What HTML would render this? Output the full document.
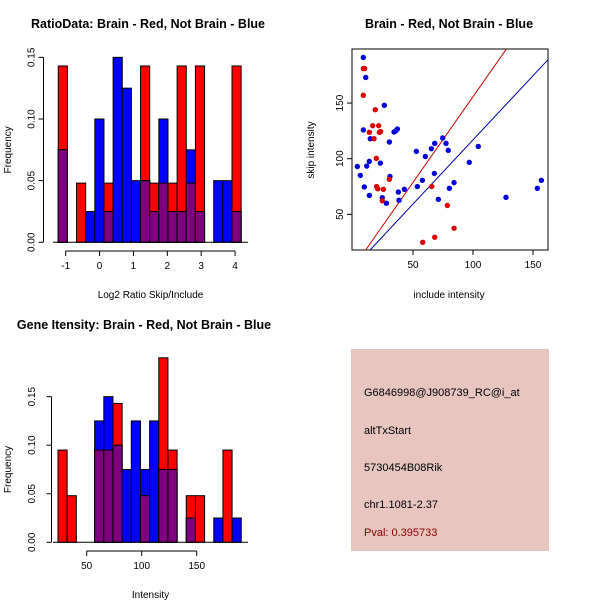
<!DOCTYPE html>
<html><head><meta charset="utf-8"><style>
body{margin:0;background:#fff;}
svg{display:block;font-family:"Liberation Sans",sans-serif;}
</style></head><body>
<svg id="c" width="600" height="600" xmlns="http://www.w3.org/2000/svg">
<rect width="600" height="600" fill="#fff"/>
<text x="148" y="28" font-size="12.5" font-weight="bold" text-anchor="middle">RatioData: Brain - Red, Not Brain - Blue</text>
<text x="449" y="28" font-size="12.5" font-weight="bold" text-anchor="middle">Brain - Red, Not Brain - Blue</text>
<text x="144" y="329" font-size="12.5" font-weight="bold" text-anchor="middle">Gene Itensity: Brain - Red, Not Brain - Blue</text>
<g>
<rect x="351" y="349" width="198" height="202" fill="#E6C6BF"/>
<text x="364" y="396" font-size="11">G6846998@J908739_RC@i_at</text>
<text x="364" y="434" font-size="11">altTxStart</text>
<text x="364" y="471" font-size="11">5730454B08Rik</text>
<text x="364" y="508" font-size="11">chr1.1081-2.37</text>
<text x="364" y="536" font-size="11" fill="#8B0000">Pval: 0.395733</text>
</g>
</svg>
<script>
// Top histogram (log2 ratio)
const ratioBinStart = -1.22;
const ratioBinWidth = 0.27;
const ratioRed  = [0.143,0,0.048,0,0,0.048,0,0,0,0.143,0.048,0.048,0.048,0.143,0.048,0.143,0,0,0,0.143];
const ratioBlue = [0.075,0,0,0.025,0.1,0.025,0.15,0.125,0.05,0.05,0.025,0.1,0.025,0.025,0.075,0.025,0,0.05,0.05,0.025];
const ratioXTicks = [-1,0,1,2,3,4];
const freqTicksTop = [0,0.05,0.10,0.15];
const freqTickLabels = ["0.00","0.05","0.10","0.15"];
// Bottom histogram (intensity)
const intBinStart = 23.9;
const intBinWidth = 8.33;
const intRed  = [0.095,0.048,0,0,0.095,0.095,0.143,0,0,0.048,0,0.19,0.095,0,0.048,0.048,0,0,0.095,0];
const intBlue = [0,0,0,0,0.125,0.15,0.1,0.075,0.125,0.075,0.125,0.075,0.075,0,0.025,0,0,0.025,0,0.025];
const intXTicks = [50,100,150];
// Scatter
const blueX = [8.6,10.6,8.6,14.4,26.1,30.3,30.8,22.8,13.6,11.4,3.6,6.1,9.4,13.6,24.4,27.8,34.2,35.6,37,37.8,38.3,42.8,52.8,53.6,57.8,60.3,65.3,67.8,68.1,71.1,74.7,77.5,79.4,80.3,84.2,96.9,104.4,127.5,153.6,157];
const blueY = [191,173,125.8,118,148,115,84,96,97.6,93.4,93,85,74.6,67,65,60,124,125,126.7,70,62.6,72.5,106.6,75,80.6,102,109,86.8,113.8,63.5,118.6,113.8,107.5,73.4,78.5,96.7,111,65.3,73.4,80.6];
const redX = [8.6,9.7,8.6,18.6,13.6,16.4,17.5,21.4,22,23,19.4,19.7,20.6,25.3,24.4,30.3,65.6,78.6,84.2,68.1,58.1];
const redY = [181,181,157,144,123.7,129.7,118,129.7,123.7,124.4,100.3,75,73,72.5,62.3,81.5,75,58,37.5,29.4,24.9];
const redLine = [1.7,1.54];   // intercept, slope
const blueLine = [1.6,1.153];
const scatterXTicks = [50,100,150];
const scatterYTicks = [50,100,150];

const NS="http://www.w3.org/2000/svg";
const svg=document.getElementById('c');
function mk(tag,attrs,parent){const e=document.createElementNS(NS,tag);for(const k in attrs)e.setAttribute(k,attrs[k]);(parent||svg).appendChild(e);return e;}

function histogram(cfg){
  const g=mk('g',{});
  
  
  const sx=v=>cfg.px0+(v-cfg.x0)*cfg.kx;
  const sy=v=>cfg.py0-v*cfg.ky;
  for(let i=0;i<cfg.red.length;i++){
    const l=sx(cfg.bs+i*cfg.bw), r=sx(cfg.bs+(i+1)*cfg.bw);
    const rv=cfg.red[i], bv=cfg.blue[i];
    if(rv>0){const e=mk('rect',{x:l,y:sy(rv),width:r-l,height:sy(0)-sy(rv),fill:'#FF0000',stroke:'#000','stroke-width':1},g);
      
      }
    if(bv>0){const e=mk('rect',{x:l,y:sy(bv),width:r-l,height:sy(0)-sy(bv),fill:'#0000FF',stroke:'#000','stroke-width':1},g);
      
      }
    const m=Math.min(rv,bv);
    if(m>0){const e=mk('rect',{x:l,y:sy(m),width:r-l,height:sy(0)-sy(m),fill:'#7F007F',stroke:'#000','stroke-width':1},g);
      
      }
  }
  mk('line',{x1:cfg.baseL,x2:cfg.baseR,y1:sy(0),y2:sy(0),stroke:'#000','stroke-width':1},g);
  const ya=mk('g',{},g);
  
  
  mk('line',{x1:cfg.yax,x2:cfg.yax,y1:sy(0),y2:sy(cfg.yt[cfg.yt.length-1]),stroke:'#000'},ya);
  cfg.yt.forEach((v,i)=>{
    mk('line',{x1:cfg.yax-5,x2:cfg.yax,y1:sy(v),y2:sy(v),stroke:'#000'},ya);
    const t=mk('text',{x:0,y:0,'font-size':10,'text-anchor':'middle',transform:`translate(${cfg.ylx},${sy(v)}) rotate(-90)`},ya);
    
    
    t.textContent=cfg.ytl[i];
  });
  const yl=mk('text',{'font-size':10,'text-anchor':'middle',transform:`translate(11,${(sy(0)+sy(cfg.yt[cfg.yt.length-1]))/2}) rotate(-90)`},g);
  
  
  yl.textContent='Frequency';
  const xa=mk('g',{},g);
  
  
  const xt=cfg.xt;
  mk('line',{x1:sx(xt[0]),x2:sx(xt[xt.length-1]),y1:cfg.xay,y2:cfg.xay,stroke:'#000'},xa);
  xt.forEach(v=>{
    mk('line',{x1:sx(v),x2:sx(v),y1:cfg.xay,y2:cfg.xay+5,stroke:'#000'},xa);
    const t=mk('text',{x:sx(v),y:cfg.xay+18,'font-size':10,'text-anchor':'middle'},xa);
    
    
    t.textContent=String(v);
  });
  const xl=mk('text',{x:(cfg.baseL+cfg.baseR)/2,y:cfg.xay+47,'font-size':10,'text-anchor':'middle'},g);
  
  
  xl.textContent=cfg.xlabel;
}

histogram({name:'ratio-histogram',red:ratioRed,blue:ratioBlue,bs:ratioBinStart,bw:ratioBinWidth,
  x0:-1,px0:65.7,kx:33.87,py0:242.3,ky:1233,yt:freqTicksTop,ytl:freqTickLabels,yax:43.5,ylx:34.5,
  xt:ratioXTicks,xay:251,baseL:53,baseR:248,xlabel:'Log2 Ratio Skip/Include'});
histogram({name:'intensity-histogram',red:intRed,blue:intBlue,bs:intBinStart,bw:intBinWidth,
  x0:50,px0:86.7,kx:1.1,py0:542.3,ky:971,yt:freqTicksTop,ytl:freqTickLabels,yax:51.5,ylx:35,
  xt:intXTicks,xay:551,baseL:53,baseR:248,xlabel:'Intensity'});

(function(){
  const g=mk('g',{});
  
  
  const sx=v=>353+v*1.2;
  const sy=v=>270-v*1.113;
  const L=352,R=548,T=49,B=250;
  const clip=mk('clipPath',{id:'sc'},g);
  mk('rect',{x:L,y:T,width:R-L,height:B-T},clip);
  const box=mk('rect',{x:L,y:T,width:R-L,height:B-T,fill:'none',stroke:'#000'},g);
  
  
  const xmin=(L-353)/1.2, xmax=(R-353)/1.2;
  [[redLine,'#CC0000','red-fit-line'],[blueLine,'#0000AA','blue-fit-line']].forEach(([p,c,n])=>{
    const ln=mk('line',{x1:sx(xmin),y1:sy(p[0]+p[1]*xmin),x2:sx(xmax),y2:sy(p[0]+p[1]*xmax),stroke:c,'stroke-width':1,'clip-path':'url(#sc)'},g);
    
    
  });
  blueX.forEach((x,i)=>{
    const c=mk('circle',{cx:sx(x),cy:sy(blueY[i]),r:2.7,fill:'#0000DD'},g);
    
    
  });
  redX.forEach((x,i)=>{
    const c=mk('circle',{cx:sx(x),cy:sy(redY[i]),r:2.7,fill:'#DD0000'},g);
    
    
  });
  scatterXTicks.forEach(v=>{
    mk('line',{x1:sx(v),x2:sx(v),y1:B,y2:B+5,stroke:'#000'},g);
    const t=mk('text',{x:sx(v),y:B+18,'font-size':10,'text-anchor':'middle'},g);
    
    
    t.textContent=String(v);
  });
  scatterYTicks.forEach(v=>{
    mk('line',{x1:L-5,x2:L,y1:sy(v),y2:sy(v),stroke:'#000'},g);
    const t=mk('text',{'font-size':10,'text-anchor':'middle',transform:`translate(${L-9},${sy(v)}) rotate(-90)`},g);
    
    
    t.textContent=String(v);
  });
  const xl=mk('text',{x:449,y:298,'font-size':10,'text-anchor':'middle'},g);
  
  
  xl.textContent='include intensity';
  const yl=mk('text',{'font-size':10,'text-anchor':'middle',transform:`translate(314,150) rotate(-90)`},g);
  
  
  yl.textContent='skip intensity';
})();
</script>
</body></html>
